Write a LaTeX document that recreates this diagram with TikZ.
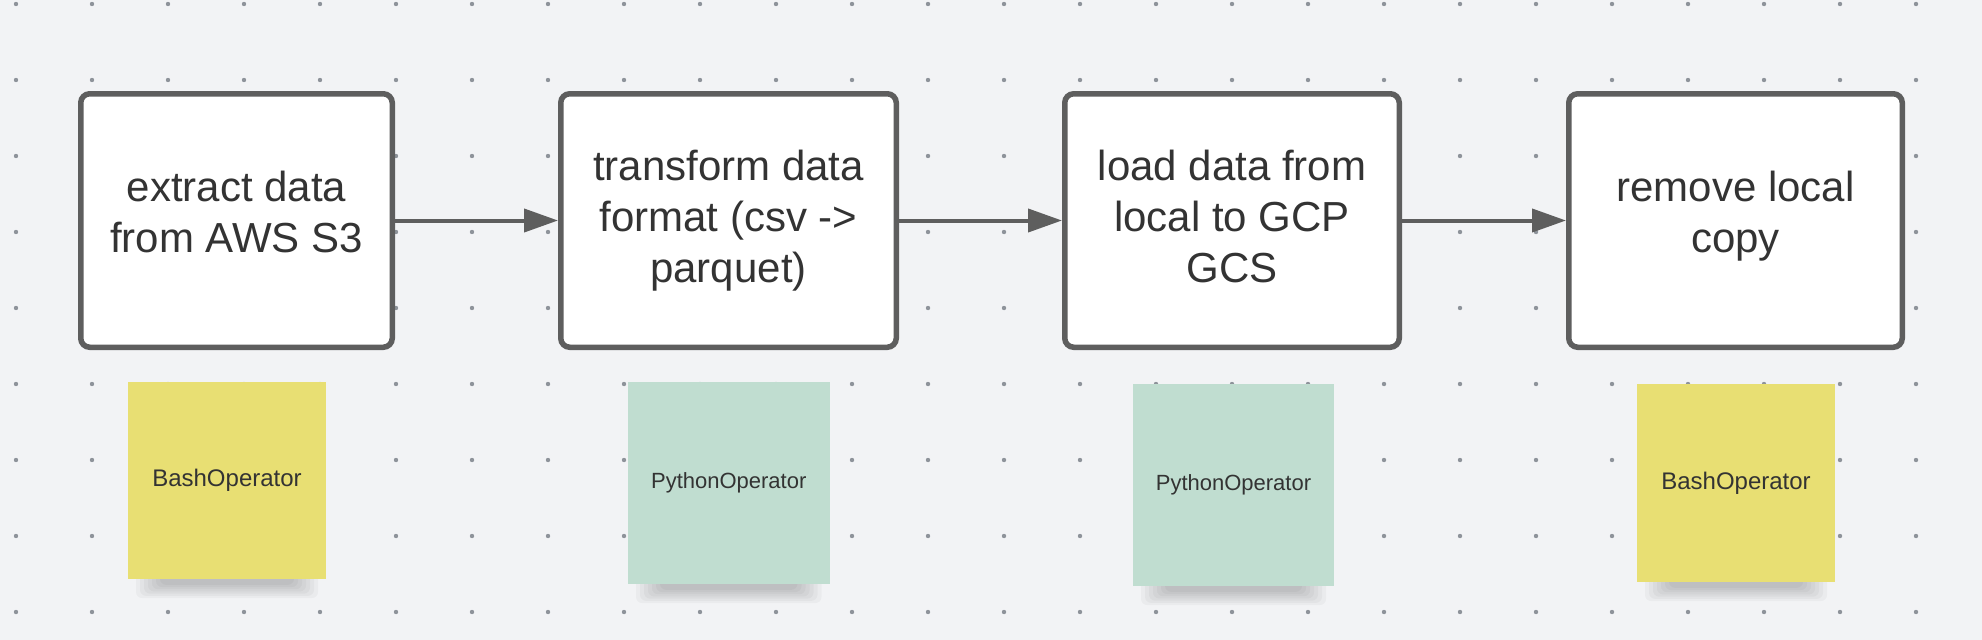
\documentclass[tikz,border=0pt]{standalone}
\usepackage{fontspec}
\setmainfont{Liberation Sans}
\usetikzlibrary{arrows.meta}
\definecolor{bgcol}{HTML}{F2F3F5}
\definecolor{dotcol}{HTML}{8E939A}
\definecolor{bordercol}{HTML}{5E5E5E}
\definecolor{txtcol}{HTML}{333333}
\definecolor{yellowcol}{HTML}{E8DF73}
\definecolor{greencol}{HTML}{C0DDD0}
\newcommand\lnstrut{\rule[-19.5pt]{0pt}{51pt}}
\newcommand\lntop{\rule[-19.5pt]{0pt}{61pt}}
\newcommand\stickyshadow[3]{%
  \foreach \k in {0,...,6}{%
    \fill[black, opacity=0.03, rounded corners=6pt]
      ({#1+8+\k*4}, {#3-6}) rectangle ({#2-8-\k*4}, {#3+19-\k*2.2});
  }%
}
\tikzset{
  stepbox/.style={draw=bordercol, line width=5.5pt, fill=white, rounded corners=9pt,
    inner sep=0pt, minimum height=253.5pt, align=center, text=txtcol,
    font=\fontsize{42pt}{51pt}\selectfont},
  sticky/.style={inner sep=0pt, text=txtcol, align=center},
  flow/.style={draw=bordercol, line width=4pt, -{Triangle[length=34pt,width=23pt]}}
}
\begin{document}
\begin{tikzpicture}[x=1pt,y=-1pt]
\fill[bgcol] (0,0) rectangle (1982,640);
\useasboundingbox (0,0) rectangle (1982,640);
% dot grid
\foreach \i in {0,...,25}{
  \foreach \j in {0,...,8}{
    \fill[dotcol] ({16+76*\i},{4+76*\j}) circle (2.2pt);
  }
}
% process boxes
\node[stepbox, minimum width=311.5pt] (b1) at (236.5,220.5)
  {\lnstrut extract data\\\lnstrut from AWS S3};
\node[stepbox, minimum width=335.5pt] (b2) at (728.5,220.5)
  {\lntop transform data\\\lnstrut format (csv -{}>\\\lnstrut parquet)};
\node[stepbox, minimum width=334.5pt] (b3) at (1232,220.5)
  {\lntop load data from\\\lnstrut local to GCP\\\lnstrut GCS};
\node[stepbox, minimum width=333.5pt] (b4) at (1735.5,220.5)
  {\lnstrut remove local\\\lnstrut copy};
% connectors
\draw[flow] (b1.east) -- (b2.west);
\draw[flow] (b2.east) -- (b3.west);
\draw[flow] (b3.east) -- (b4.west);
% sticky shadows
\stickyshadow{128}{326}{579}
\stickyshadow{628}{829.5}{584}
\stickyshadow{1133}{1334}{586}
\stickyshadow{1637}{1835}{582}
% sticky notes
\node[sticky, fill=yellowcol, minimum width=198pt, minimum height=197pt,
  font=\fontsize{24pt}{29pt}\selectfont] (s1) at (227,480.5) {BashOperator};
\node[sticky, fill=greencol, minimum width=201.5pt, minimum height=202pt,
  font=\fontsize{22pt}{27pt}\selectfont] (s2) at (728.75,483) {PythonOperator};
\node[sticky, fill=greencol, minimum width=201pt, minimum height=202pt,
  font=\fontsize{22pt}{27pt}\selectfont] (s3) at (1233.5,485) {PythonOperator};
\node[sticky, fill=yellowcol, minimum width=198pt, minimum height=198pt,
  font=\fontsize{24pt}{29pt}\selectfont] (s4) at (1736,483) {BashOperator};
\end{tikzpicture}
\end{document}
